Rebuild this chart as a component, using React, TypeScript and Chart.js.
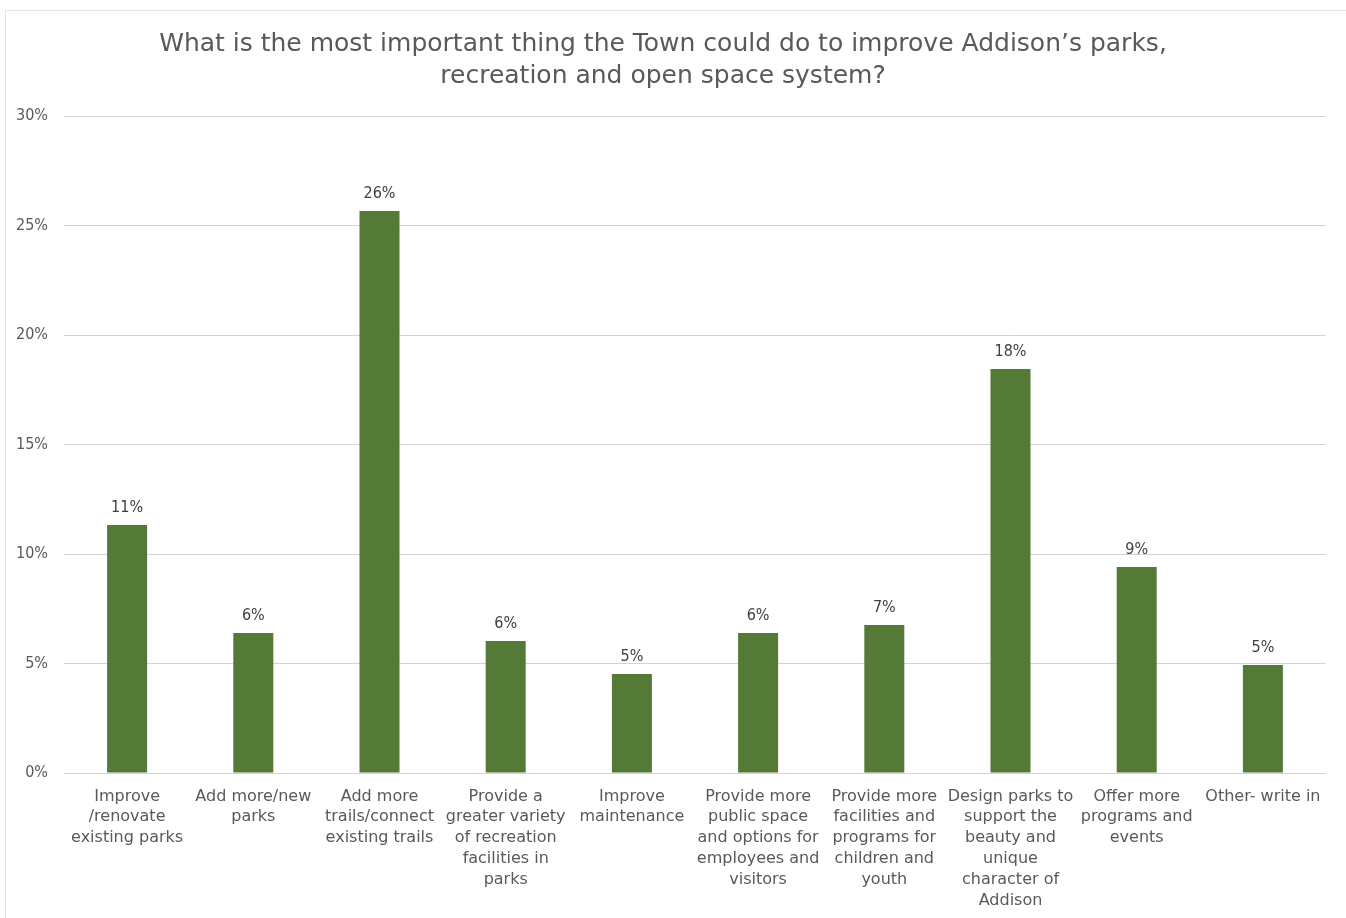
import React, { useEffect, useRef } from "react";
import { Chart, registerables } from "chart.js";

Chart.register(...registerables);

const categories: string[][] = [
  ["Improve", "/renovate", "existing parks"],
  ["Add more/new", "parks"],
  ["Add more", "trails/connect", "existing trails"],
  ["Provide a", "greater variety", "of recreation", "facilities in", "parks"],
  ["Improve", "maintenance"],
  ["Provide more", "public space", "and options for", "employees and", "visitors"],
  ["Provide more", "facilities and", "programs for", "children and", "youth"],
  ["Design parks to", "support the", "beauty and", "unique", "character of", "Addison"],
  ["Offer more", "programs and", "events"],
  ["Other- write in"],
];

const values: number[] = [11.32, 6.39, 25.66, 6.03, 4.52, 6.39, 6.76, 18.45, 9.41, 4.93];

const yMin = 0;
const yMax = 30;
const yStep = 5;

const titleLines: string[] = [
  "What is the most important thing the Town could do to improve Addison\u2019s parks,",
  "recreation and open space system?",
];

const FONT = "'DejaVu Sans', 'Noto Sans', sans-serif";
const FONT_C = "'DejaVu Sans Condensed', 'DejaVu Sans', sans-serif";
const TEXT = "#595959";
const BAR = "#557a37";

const frame = {
  id: "frame",
  beforeDraw(chart: any) {
    const ctx = chart.ctx;
    ctx.save();
    ctx.fillStyle = "#ffffff";
    ctx.fillRect(0, 0, chart.width, chart.height);
    ctx.strokeStyle = "#c8c8c8";
    ctx.lineWidth = 1;
    ctx.setLineDash([1, 1]);
    ctx.strokeRect(5.5, 10.5, chart.width + 20, chart.height + 20);
    ctx.restore();
  },
};

const dataLabels = {
  id: "dataLabels",
  afterDatasetsDraw(chart: any) {
    const ctx = chart.ctx;
    const meta = chart.getDatasetMeta(0);
    ctx.save();
    ctx.font = `16px ${FONT_C}`;
    ctx.fillStyle = "#404040";
    ctx.textAlign = "center";
    ctx.textBaseline = "alphabetic";
    meta.data.forEach((bar: any, i: number) => {
      const v = chart.data.datasets[0].data[i];
      ctx.fillText(`${Math.round(v)}%`, bar.x, bar.y - 13);
    });
    ctx.restore();
  },
};

export default function App() {
  const ref = useRef<HTMLCanvasElement>(null);
  useEffect(() => {
    if (!ref.current) return;
    const chart = new Chart(ref.current, {
      type: "bar",
      data: {
        labels: categories,
        datasets: [
          {
            data: values,
            backgroundColor: BAR,
            borderWidth: 0,
            categoryPercentage: 1,
            barPercentage: 0.317,
          },
        ],
      },
      options: {
        animation: false,
        responsive: false,
        maintainAspectRatio: false,
        layout: { padding: { left: 0, right: 20, top: 0, bottom: 0 } },
        plugins: {
          legend: { display: false },
          tooltip: { enabled: false },
          title: {
            display: true,
            text: titleLines,
            color: TEXT,
            font: { family: FONT, size: 25, weight: "normal", lineHeight: 1.28 },
            padding: { top: 28, bottom: 24 },
          },
        },
        scales: {
          x: {
            grid: { display: false },
            border: { display: false },
            ticks: {
              color: TEXT,
              font: { family: FONT, size: 16, lineHeight: 1.3 },
              padding: 5,
              maxRotation: 0,
              minRotation: 0,
              autoSkip: false,
            },
            afterFit(scale: any) {
              scale.height = 145;
            },
          },
          y: {
            min: yMin,
            max: yMax,
            grid: {
              color: "#d3d3d3",
              lineWidth: 1,
              drawTicks: false,
            },
            border: { display: false },
            ticks: {
              stepSize: yStep,
              color: TEXT,
              font: { family: FONT_C, size: 16 },
              padding: 16,
              callback: (v: any) => `${v}%`,
            },
            afterFit(scale: any) {
              scale.width = 64;
            },
          },
        },
      },
      plugins: [frame, dataLabels],
    });
    return () => chart.destroy();
  }, []);
  return (
    <div style={{ position: "absolute", left: 0, top: 0, width: 1346, height: 918 }}>
      <canvas ref={ref} width={1346} height={918} style={{ display: "block" }} />
    </div>
  );
}
